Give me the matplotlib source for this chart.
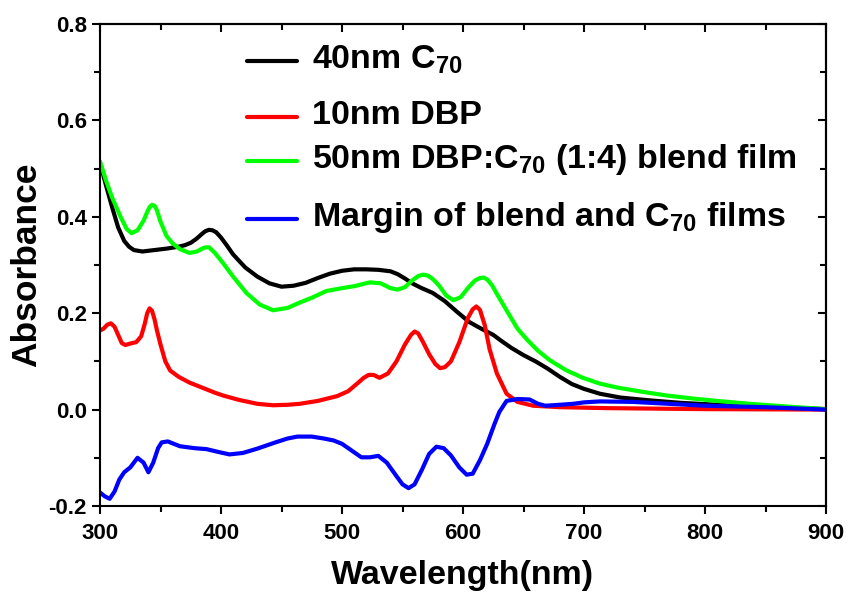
import numpy as np
import matplotlib
matplotlib.use("Agg")
import matplotlib.pyplot as plt
from matplotlib.ticker import MultipleLocator

# ---------------------------------------------------------------------------
# Data
# ---------------------------------------------------------------------------
C70_WL = [300, 305, 310, 315, 320, 324, 328, 335, 345, 355, 365, 370, 375, 380,
          384, 387, 390, 393, 396, 400, 405, 410, 420, 430, 440, 450, 460, 470,
          480, 490, 500, 510, 520, 530, 540, 546, 552, 558, 565, 575, 585, 595,
          605, 615, 625, 632, 640, 650, 660, 670, 680, 690, 700, 713, 730, 755,
          780, 810, 840, 870, 900]
C70_ABS = [0.512, 0.465, 0.420, 0.378, 0.350, 0.338, 0.331, 0.328, 0.331, 0.334,
           0.338, 0.341, 0.346, 0.355, 0.364, 0.370, 0.373, 0.372, 0.368, 0.357,
           0.340, 0.322, 0.295, 0.276, 0.262, 0.255, 0.257, 0.263, 0.273, 0.282,
           0.288, 0.291, 0.291, 0.290, 0.287, 0.281, 0.272, 0.262, 0.253, 0.242,
           0.225, 0.203, 0.182, 0.168, 0.155, 0.142, 0.128, 0.113, 0.100, 0.085,
           0.068, 0.053, 0.043, 0.033, 0.025, 0.019, 0.014, 0.010, 0.007, 0.004,
           0.001]

DBP_WL = [300, 303, 306, 309, 312, 315, 318, 321, 325, 330, 334, 337, 339, 341,
          343, 345, 347, 350, 354, 358, 365, 374, 385, 395, 402, 415, 430, 443,
          455, 465, 480, 496, 505, 513, 518, 522, 526, 531, 538, 545, 552, 557,
          560, 563, 567, 572, 577, 581, 585, 590, 597, 604, 608, 611, 614, 618,
          622, 628, 636, 645, 658, 680, 720, 800, 900]
DBP_ABS = [0.164, 0.168, 0.176, 0.179, 0.172, 0.155, 0.138, 0.134, 0.137, 0.140,
           0.152, 0.178, 0.200, 0.210, 0.205, 0.188, 0.165, 0.135, 0.100, 0.081,
           0.068, 0.056, 0.045, 0.035, 0.029, 0.020, 0.012, 0.009, 0.010, 0.012,
           0.018, 0.028, 0.038, 0.055, 0.066, 0.072, 0.072, 0.066, 0.075, 0.100,
           0.135, 0.155, 0.162, 0.158, 0.140, 0.115, 0.095, 0.086, 0.088, 0.100,
           0.140, 0.190, 0.208, 0.214, 0.207, 0.175, 0.125, 0.075, 0.033, 0.016,
           0.008, 0.005, 0.003, 0.001, 0.000]

BLEND_WL = [300, 305, 310, 317, 322, 326, 331, 336, 339, 341, 343, 345, 347, 350,
            355, 360, 366, 374, 380, 386, 390, 395, 402, 410, 421, 432, 443, 455,
            465, 475, 487, 500, 510, 523, 532, 540, 546, 552, 558, 563, 567, 571,
            575, 580, 586, 592, 598, 605, 610, 614, 617, 620, 624, 628, 636, 645,
            653, 662, 672, 685, 699, 713, 727, 748, 769, 790, 810, 837, 870, 900]
BLEND_ABS = [0.515, 0.475, 0.440, 0.400, 0.375, 0.366, 0.372, 0.392, 0.410, 0.420,
             0.425, 0.423, 0.414, 0.390, 0.360, 0.345, 0.333, 0.325, 0.328, 0.336,
             0.337, 0.325, 0.303, 0.276, 0.242, 0.218, 0.206, 0.211, 0.222, 0.232,
             0.246, 0.252, 0.256, 0.264, 0.262, 0.252, 0.249, 0.254, 0.268, 0.277,
             0.280, 0.278, 0.271, 0.258, 0.237, 0.227, 0.233, 0.255, 0.268, 0.273,
             0.274, 0.270, 0.258, 0.240, 0.206, 0.168, 0.145, 0.122, 0.102, 0.082,
             0.066, 0.054, 0.046, 0.037, 0.029, 0.023, 0.018, 0.012, 0.006, 0.001]

MARGIN_WL = [300, 304, 308, 312, 316, 320, 325, 331, 336, 340, 344, 348, 351, 356,
             366, 378, 388, 398, 407, 418, 430, 445, 455, 463, 475, 485, 493, 500,
             508, 516, 523, 530, 537, 545, 550, 555, 560, 566, 572, 578, 584, 590,
             597, 603, 608, 614, 620, 626, 630, 636, 645, 655, 662, 668, 680, 691,
             700, 713, 740, 770, 800, 850, 900]
MARGIN_ABS = [-0.172, -0.180, -0.185, -0.170, -0.145, -0.130, -0.120, -0.100,
              -0.110, -0.130, -0.110, -0.080, -0.068, -0.066, -0.076, -0.080,
              -0.082, -0.088, -0.093, -0.090, -0.081, -0.068, -0.060, -0.056,
              -0.056, -0.060, -0.064, -0.071, -0.085, -0.099, -0.099, -0.096,
              -0.110, -0.138, -0.155, -0.163, -0.155, -0.125, -0.092, -0.077,
              -0.080, -0.095, -0.120, -0.135, -0.133, -0.105, -0.071, -0.030,
              -0.005, 0.018, 0.022, 0.021, 0.012, 0.008, 0.010, 0.012, 0.015,
              0.017, 0.016, 0.012, 0.008, 0.005, 0.000]

SERIES = [
    (C70_WL, C70_ABS, "#000000", r"40nm C$_{70}$"),
    (DBP_WL, DBP_ABS, "#ff0000", "10nm DBP"),
    (BLEND_WL, BLEND_ABS, "#00ff00", r"50nm DBP:C$_{70}$ (1:4) blend film"),
    (MARGIN_WL, MARGIN_ABS, "#0000ff", r"Margin of blend and C$_{70}$ films"),
]

# legend rows, axes fraction (rows with subscripts sit further apart)
LEGEND_Y = [0.923, 0.807, 0.716, 0.596]
LEGEND_X0, LEGEND_X1, LEGEND_TX = 0.2025, 0.2713, 0.292

# ---------------------------------------------------------------------------
# Style
# ---------------------------------------------------------------------------
plt.rcParams["font.family"] = ["Liberation Sans", "DejaVu Sans"]
plt.rcParams["font.weight"] = "bold"
plt.rcParams["mathtext.fontset"] = "custom"
plt.rcParams["mathtext.rm"] = "Liberation Sans:bold"
plt.rcParams["mathtext.it"] = "Liberation Sans:bold"
plt.rcParams["mathtext.bf"] = "Liberation Sans:bold"
plt.rcParams["mathtext.default"] = "rm"

fig = plt.figure(figsize=(8.49, 6.01), dpi=100)
ax = fig.add_axes([100 / 849, 1 - 506 / 601, 726 / 849, 482 / 601])

for (wl, ab, color, label), ly in zip(SERIES, LEGEND_Y):
    ax.plot(wl, ab, color=color, linewidth=3.0, solid_capstyle="round",
            solid_joinstyle="round")
    # hand-placed legend entry
    ax.plot([LEGEND_X0, LEGEND_X1], [ly, ly], color=color, linewidth=3.0,
            solid_capstyle="round", transform=ax.transAxes)
    ax.text(LEGEND_TX, ly - 0.0145, label, fontsize=24.5, fontweight="bold",
            ha="left", va="baseline", transform=ax.transAxes)

ax.set_xlim(300, 900)
ax.set_ylim(-0.2, 0.8)
ax.xaxis.set_major_locator(MultipleLocator(100))
ax.xaxis.set_minor_locator(MultipleLocator(50))
ax.yaxis.set_major_locator(MultipleLocator(0.2))
ax.yaxis.set_minor_locator(MultipleLocator(0.1))
ax.yaxis.set_major_formatter(plt.FuncFormatter(lambda v, p: f"{v:.1f}"))

for sp in ax.spines.values():
    sp.set_linewidth(1.5)
ax.tick_params(which="both", direction="out", width=1.5, labelsize=16)
ax.tick_params(which="major", length=6)
ax.tick_params(which="minor", length=4)
ax.tick_params(axis="x", which="major", pad=6)

# inward ticks on the top and right frame
top = ax.secondary_xaxis("top")
top.xaxis.set_major_locator(MultipleLocator(100))
top.xaxis.set_minor_locator(MultipleLocator(50))
top.tick_params(which="both", direction="in", width=1.5, labeltop=False)
top.tick_params(which="major", length=6)
top.tick_params(which="minor", length=4)
right = ax.secondary_yaxis("right")
right.yaxis.set_major_locator(MultipleLocator(0.2))
right.yaxis.set_minor_locator(MultipleLocator(0.1))
right.tick_params(which="both", direction="in", width=1.5, labelright=False)
right.tick_params(which="major", length=6)
right.tick_params(which="minor", length=4)
for sec in (top, right):
    for sp in sec.spines.values():
        sp.set_linewidth(1.5)

ax.set_xlabel("Wavelength(nm)", fontsize=24.5, fontweight="bold", labelpad=12)
ax.set_ylabel("Absorbance", fontsize=25.5, fontweight="bold", labelpad=4)

fig.savefig("out.png", dpi=100)
